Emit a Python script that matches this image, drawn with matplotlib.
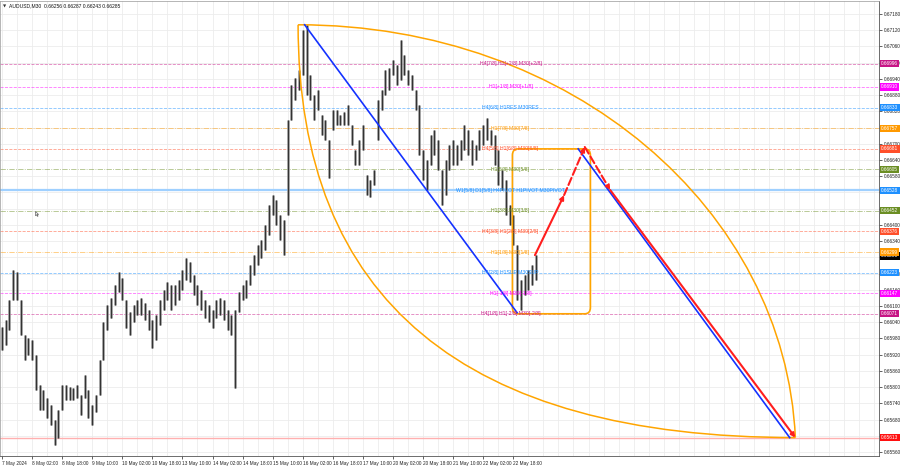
import numpy as np
import matplotlib
matplotlib.use('Agg')
from matplotlib import pyplot as plt
from matplotlib.path import Path
from matplotlib.patches import PathPatch, FancyBboxPatch

plt.rcParams['font.family'] = ['Liberation Sans', 'DejaVu Sans']

#%% Price data (one sample = 4 M30 bars, high / low of the block)
bar_step = 4
highs = [0.66022, 0.66048, 0.66122, 0.66233, 0.66226, 0.66122, 0.65993, 0.65981, 0.65974, 0.65919,
         0.65808, 0.65789, 0.65759, 0.65734, 0.65678, 0.65715, 0.65808, 0.65808, 0.65800, 0.65796,
         0.65808, 0.65771, 0.65845, 0.65789, 0.65734, 0.65771, 0.65900, 0.66041, 0.66104, 0.66129,
         0.66178, 0.66226, 0.66203, 0.66122, 0.66078, 0.66104, 0.66122, 0.66129, 0.66111, 0.66085,
         0.66048, 0.66067, 0.66122, 0.66159, 0.66189, 0.66178, 0.66178, 0.66196, 0.66233, 0.66277,
         0.66263, 0.66215, 0.66178, 0.66159, 0.66122, 0.66104, 0.66085, 0.66122, 0.66129, 0.66122,
         0.66085, 0.66067, 0.66085, 0.66152, 0.66178, 0.66196, 0.66252, 0.66289, 0.66326, 0.66344,
         0.66400, 0.66474, 0.66511, 0.66492, 0.66437, 0.66418, 0.66788, 0.66918, 0.66943, 0.66973,
         0.67121, 0.67140, 0.66955, 0.66881, 0.66899, 0.66807, 0.66788, 0.66714, 0.66825, 0.66825,
         0.66807, 0.66818, 0.66844, 0.66770, 0.66677, 0.66714, 0.66770, 0.66585, 0.66566, 0.66603,
         0.66862, 0.66899, 0.66973, 0.66980, 0.67010, 0.66992, 0.67084, 0.67029, 0.66973, 0.66955,
         0.66899, 0.66844, 0.66677, 0.66640, 0.66733, 0.66751, 0.66714, 0.66603, 0.66640, 0.66696,
         0.66714, 0.66696, 0.66714, 0.66770, 0.66751, 0.66714, 0.66696, 0.66751, 0.66770, 0.66795,
         0.66751, 0.66733, 0.66677, 0.66603, 0.66566, 0.66474, 0.66437, 0.66326, 0.66196, 0.66215,
         0.66233, 0.66252, 0.66289]
lows = [0.65937, 0.65956, 0.66011, 0.66122, 0.66122, 0.65993, 0.65900, 0.65919, 0.65900, 0.65789,
        0.65715, 0.65715, 0.65685, 0.65660, 0.65586, 0.65611, 0.65715, 0.65752, 0.65752, 0.65752,
        0.65759, 0.65697, 0.65759, 0.65685, 0.65660, 0.65708, 0.65771, 0.65900, 0.66011, 0.66055,
        0.66104, 0.66152, 0.66122, 0.66018, 0.65993, 0.66041, 0.66067, 0.66067, 0.66048, 0.66011,
        0.65944, 0.65974, 0.66030, 0.66085, 0.66122, 0.66085, 0.66104, 0.66122, 0.66159, 0.66196,
        0.66189, 0.66141, 0.66104, 0.66085, 0.66055, 0.66041, 0.66018, 0.66055, 0.66067, 0.66048,
        0.66011, 0.65993, 0.65796, 0.66078, 0.66122, 0.66129, 0.66178, 0.66215, 0.66252, 0.66277,
        0.66307, 0.66363, 0.66437, 0.66400, 0.66344, 0.66289, 0.66437, 0.66788, 0.66862, 0.66899,
        0.66955, 0.66881, 0.66862, 0.66788, 0.66825, 0.66733, 0.66714, 0.66573, 0.66751, 0.66770,
        0.66770, 0.66770, 0.66770, 0.66696, 0.66622, 0.66622, 0.66677, 0.66511, 0.66503, 0.66548,
        0.66714, 0.66825, 0.66881, 0.66899, 0.66955, 0.66918, 0.66936, 0.66955, 0.66918, 0.66899,
        0.66825, 0.66659, 0.66566, 0.66529, 0.66622, 0.66659, 0.66603, 0.66474, 0.66511, 0.66603,
        0.66622, 0.66622, 0.66640, 0.66677, 0.66659, 0.66622, 0.66640, 0.66677, 0.66696, 0.66714,
        0.66696, 0.66622, 0.66548, 0.66529, 0.66437, 0.66400, 0.66326, 0.66122, 0.66085, 0.66141,
        0.66159, 0.66178, 0.66196]

bid_open, bid_high, bid_low, bid_close = 0.66256, 0.66287, 0.66243, 0.66285

tick_bars = np.arange(0, 545, 32)
tick_labels = ['7 May 2024', '8 May 02:00', '8 May 18:00', '9 May 10:00', '10 May 02:00',
               '10 May 18:00', '13 May 10:00', '14 May 02:00', '14 May 18:00', '15 May 10:00',
               '16 May 02:00', '16 May 18:00', '17 May 10:00', '20 May 02:00', '20 May 18:00',
               '21 May 10:00', '22 May 02:00', '22 May 18:00']

#%% Murrey math levels
level_prices = [0.66996, 0.66910, 0.66833, 0.66757, 0.66681, 0.66605, 0.66528,
                0.66452, 0.66376, 0.66299, 0.66223, 0.66147, 0.66071]
level_names = ['H4[7/8] H1[+2/8] M30[+2/8]', 'H1[+1/8] M30[+1/8]', 'H4[6/8] H1RES M30RES',
               'H1[7/8] M30[7/8]', 'H4[5/8] H1[6/8] M30[6/8]', 'H1[5/8] M30[5/8]',
               'W1[5/8] D1[5/8] H4PIVOT H1PIVOT M30PIVOT', 'H1[3/8] M30[3/8]',
               'H4[3/8] H1[2/8] M30[2/8]', 'H1[1/8] M30[1/8]', 'H4[2/8] H1SUP M30SUP',
               'H1[-1/8] M30[-1/8]', 'H4[1/8] H1[-2/8] M30[-2/8]']
level_colors = ['#C71585', '#FF00FF', '#1E90FF', '#FF9900', '#FF4F2A', '#6B8E23', '#1E90FF',
                '#6B8E23', '#FF4F2A', '#FF9900', '#1E90FF', '#FF00FF', '#C71585']
level_styles = ['dashed', 'dashed', 'dashed', 'dashdot', 'dashed', 'dashdot', 'solid',
                'dashdot', 'dashed', 'dashdot', 'dashed', 'dashed', 'dashed']
target_low = 0.65613

#%% Drawing objects (bar index, price)
arc_start = (315, 0.67140)
arc_end = (844, 0.65613)
upper_arc_ctrl = [(607, 0.67140), (833, 0.66455)]   # cubic curve handles
lower_arc_ctrl = (315, 0.65613)                     # quadratic curve handle
blue_leg1 = [(322, 0.67140), (548, 0.66075)]
blue_leg2 = [(613, 0.66681), (838, 0.65613)]
red_path = [(567, 0.66288), (598, 0.66510), (620, 0.66688), (647, 0.66529), (844, 0.65613)]
red_dashed = [False, True, True, False]
box_bars = (543, 626)
box_prices = (0.66071, 0.66681)
cursor_pos = (35, 0.66452)

#%% Figure
W, H = 900, 468
fig = plt.figure(figsize=(W / 100, H / 100), dpi=100)
ax = fig.add_axes([0, 12 / H, 879 / W, 455 / H])
ax.set_xlim(-2.1, 933)
ax.set_ylim(0.65545, 0.67228)

# grid
for b in np.arange(0, 933, 16):
    ax.axvline(b, color='#ececec', lw=0.6, zorder=0)
yt = np.arange(0.65560, 0.67190, 0.0006)
for p in yt:
    ax.axhline(p, color='#ececec', lw=0.6, zorder=0)

# levels
for p, name, c, ls in zip(level_prices, level_names, level_colors, level_styles):
    if ls == 'solid':
        ax.axhline(p, color='#9fd0ff', lw=1.6, zorder=1)
    else:
        ax.axhline(p, color=c, lw=0.6, ls=ls, alpha=0.55, zorder=1)
    ax.text(541, p, name, color=c, fontsize=3.7, ha='center', va='center', zorder=6)
ax.axhline(target_low, color='#ffb0b0', lw=1.0, zorder=1)

# candles: grey wick band with a darker core
bars = np.arange(len(highs)) * bar_step
ax.vlines(bars, lows, highs, color='#9a9a9a', lw=1.9, zorder=2)
ax.vlines(bars, lows, highs, color='#333333', lw=0.8, zorder=3)

# arcs between the two anchors
upper = Path([arc_start, upper_arc_ctrl[0], upper_arc_ctrl[1], arc_end],
             [Path.MOVETO, Path.CURVE4, Path.CURVE4, Path.CURVE4])
lower = Path([arc_start, lower_arc_ctrl, arc_end],
             [Path.MOVETO, Path.CURVE3, Path.CURVE3])
for path in [upper, lower]:
    ax.add_patch(PathPatch(path, fc='none', ec='#FFA500', lw=1.1, zorder=4))

# blue legs
for leg in [blue_leg1, blue_leg2]:
    ax.plot([leg[0][0], leg[1][0]], [leg[0][1], leg[1][1]], color='#1432FF', lw=1.2, zorder=5)

# box
bx0, bx1 = box_bars
by0, by1 = box_prices
ax.add_patch(FancyBboxPatch((bx0, by0), bx1 - bx0, by1 - by0,
                            boxstyle='round,pad=0,rounding_size=6',
                            mutation_aspect=0.000037 / 0.94,
                            fc='none', ec='#FFA500', lw=1.2, zorder=4))

# red projection arrows
for (p0, p1, dashed) in zip(red_path[:-1], red_path[1:], red_dashed):
    ax.annotate('', xy=p1, xytext=p0,
                arrowprops=dict(arrowstyle='-|>', color='#FF1E1E', lw=1.5,
                                ls='--' if dashed else '-', mutation_scale=6,
                                shrinkA=0, shrinkB=0), zorder=6)

# mouse pointer left on the chart
cursor = Path([(0, 0), (0, -10), (2.6, -7.6), (4.4, -11.5), (6, -10.8), (4.3, -7), (7.2, -7), (0, 0)])
ax.plot(*cursor_pos, marker=cursor, ms=7, mfc='white', mec='#666666', mew=0.5, zorder=6)

# axes styling
ax.yaxis.tick_right()
ax.set_yticks(yt)
ax.set_yticklabels([f'{p:.5f}' for p in yt])
ax.set_xticks(tick_bars)
ax.set_xticklabels(tick_labels, ha='left')
ax.tick_params(axis='y', length=2, width=0.5, pad=1.5, labelsize=3.4, colors='#222222')
ax.tick_params(axis='x', length=2, width=0.5, pad=1.5, labelsize=3.4, colors='#222222')
for s in ['top', 'left']:
    ax.spines[s].set_color('#999999')
    ax.spines[s].set_linewidth(0.5)
for s in ['right', 'bottom']:
    ax.spines[s].set_color('#555555')
    ax.spines[s].set_linewidth(0.6)

# price tags on the right
ytr = ax.get_yaxis_transform()
def tag(price, fc, tc='white', z=7):
    ax.text(1.0025, price, f'{price:.5f}', transform=ytr, fontsize=3.4, color=tc,
            ha='left', va='center', zorder=z, clip_on=False,
            bbox=dict(boxstyle='square,pad=0.25', fc=fc, ec='none'))

tag(bid_close, '#000000', z=7)
for p, c in zip(level_prices, level_colors):
    tag(p, c, z=8)
tag(target_low, '#FF1010', z=8)

fig.text(3 / W, 1 - 6 / H, '\u25BC', fontsize=3, va='center', ha='left', color='#333333',
         family='DejaVu Sans')
fig.text(9 / W, 1 - 6 / H,
         f'AUDUSD,M30  {bid_open:.5f} {bid_high:.5f} {bid_low:.5f} {bid_close:.5f}',
         fontsize=3.6, va='center', ha='left', color='#111111')

fig.savefig('out.png', dpi=100)
